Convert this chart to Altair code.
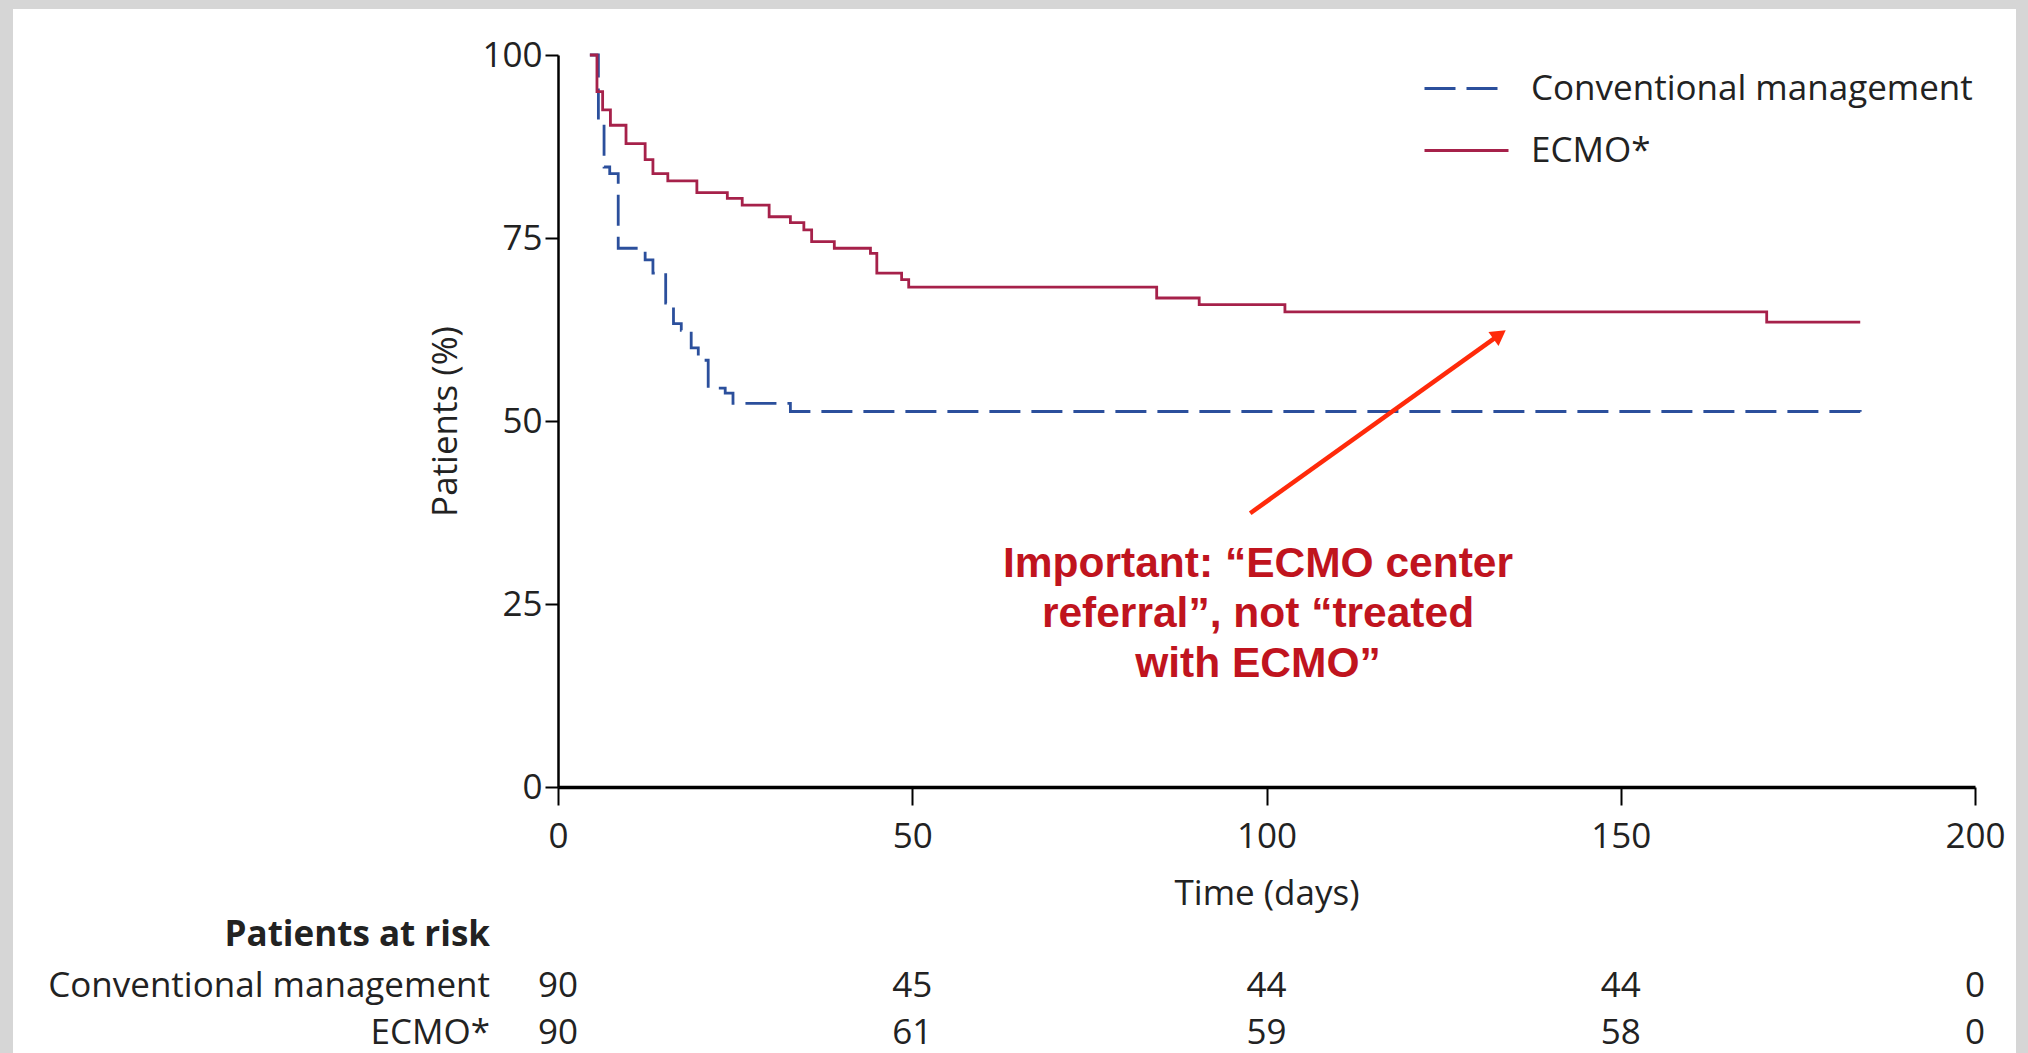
import altair as alt
import pandas as pd

# ---- data ----
groups = ["Conventional management", "ECMO*"]
line_colors = ["#2b4f9c", "#a6214a"]

ecmo_days = [4.5, 5.5, 6.3, 7.4, 9.6, 12.3, 13.4, 15.5, 19.6, 23.9, 26.0, 29.8, 32.8,
             34.7, 35.8, 39.0, 44.1, 45.0, 48.5, 49.5, 84.5, 90.5, 102.6, 170.6, 183.8]
ecmo_surv = [100, 95.0, 92.5, 90.4, 87.9, 85.7, 83.8, 82.8, 81.2, 80.4, 79.5, 77.9, 77.1,
             76.1, 74.5, 73.6, 72.9, 70.2, 69.3, 68.3, 66.8, 65.9, 64.9, 63.5, 63.5]

conv_days = [4.5, 5.7, 6.5, 7.3, 8.5, 12.3, 13.4, 15.2, 16.3, 17.4, 18.8, 19.8, 21.2,
             23.6, 24.7, 32.8, 183.8]
conv_surv = [100, 91.1, 84.7, 83.8, 73.6, 72.0, 70.2, 66.1, 63.3, 62.4, 60.0, 58.3, 54.5,
             53.8, 52.4, 51.3, 50.1]

risk_days = [0, 50, 100, 150, 200]
risk_conv = [90, 45, 44, 44, 0]
risk_ecmo = [90, 61, 59, 58, 0]

x_ticks = [0, 50, 100, 150, 200]
y_ticks = [0, 25, 50, 75, 100]

annotation_lines = ["Important: \u201cECMO center", "referral\u201d, not \u201ctreated", "with ECMO\u201d"]
annotation_x = [98.8]
annotation_y = [30.5]

arrow_x = [97.7, 132.9]
arrow_y = [37.4, 61.8]
arrow_head_x = [132.9]
arrow_head_y = [61.8]

# ---- tables ----
km = pd.concat([
    pd.DataFrame({"day": conv_days, "surv": conv_surv, "group": groups[0]}),
    pd.DataFrame({"day": ecmo_days, "surv": ecmo_surv, "group": groups[1]}),
])
conv_risk_df = pd.DataFrame({"day": risk_days, "n": risk_conv})
ecmo_risk_df = pd.DataFrame({"day": risk_days, "n": risk_ecmo})
ann_df = pd.DataFrame({"day": annotation_x, "surv": annotation_y, "t": ["\n".join(annotation_lines)]})
arrow_df = pd.DataFrame({"day": arrow_x, "surv": arrow_y})
head_df = pd.DataFrame({"day": arrow_head_x, "surv": arrow_head_y})

FONT = "Open Sans"
TXT = "#222222"
FS = 35

x_scale = alt.Scale(domain=[0, 200], nice=False, zero=False)
y_scale = alt.Scale(domain=[0, 100], nice=False)

x_axis = alt.Axis(values=x_ticks, grid=False, domainColor="black", domainWidth=3.3,
                  tickColor="black", tickWidth=2, tickSize=18, labelFontSize=FS,
                  labelFont=FONT, labelColor=TXT, labelPadding=14, titleFontSize=FS,
                  titleFont=FONT, titleColor=TXT, titleFontWeight="normal",
                  titlePadding=22, format="d", zindex=1, labelFlush=False,
                  labelOverlap=False)
y_axis = alt.Axis(values=y_ticks, grid=False, domainColor="black", domainWidth=2.5,
                  tickColor="black", tickWidth=2, tickSize=13, labelFontSize=FS,
                  labelFont=FONT, labelColor=TXT, labelPadding=3, titleFontSize=FS,
                  titleFont=FONT, titleColor=TXT, titleFontWeight="normal",
                  titlePadding=18, format="d", zindex=1, labelFlush=False,
                  labelOverlap=False)

X = alt.X("day:Q", scale=x_scale, title="Time (days)", axis=x_axis)
Y = alt.Y("surv:Q", scale=y_scale, title="Patients (%)", axis=y_axis)

frame = alt.Chart(alt.Data(values=[{"a": 1}])).mark_rect(color="white").encode(
    x=alt.value(-545), x2=alt.value(1458), y=alt.value(-46), y2=alt.value(1010)
)

legend = alt.Legend(
    title=None, orient="none", legendX=865, legendY=-10, symbolType="stroke",
    symbolSize=7056, symbolStrokeWidth=3, labelFontSize=FS, labelFont=FONT,
    labelColor=TXT, labelOffset=21, labelLimit=800, rowPadding=-26, padding=0,
)

lines = alt.Chart(km).mark_line(interpolate="step-after", strokeWidth=2.8).encode(
    x=X, y=Y,
    color=alt.Color("group:N", scale=alt.Scale(domain=groups, range=line_colors), legend=legend),
    strokeDash=alt.StrokeDash("group:N", scale=alt.Scale(domain=groups, range=[[31, 11], [1, 0]]),
                              legend=legend),
)

conv_risk = alt.Chart(conv_risk_df).mark_text(font=FONT, fontSize=FS, color=TXT, baseline="middle").encode(
    x=X, y=alt.value(931), text="n:Q")
ecmo_risk = alt.Chart(ecmo_risk_df).mark_text(font=FONT, fontSize=FS, color=TXT, baseline="middle").encode(
    x=X, y=alt.value(978), text="n:Q")

def row_label(txt, y, bold=False):
    return alt.Chart(alt.Data(values=[{"t": txt}])).mark_text(
        font=FONT, fontSize=FS, color=TXT, align="right", baseline="middle",
        fontWeight="bold" if bold else "normal",
    ).encode(x=alt.value(-68), y=alt.value(y), text="t:N")

hdr = row_label("Patients at risk", 880, bold=True)
lab1 = row_label(groups[0], 931)
lab2 = row_label(groups[1], 978)

ann = alt.Chart(ann_df).mark_text(
    font="Liberation Sans", fontSize=42.5, fontWeight="bold", color="#c0141e",
    align="center", baseline="middle", lineBreak="\n", lineHeight=50,
).encode(x=X, y=Y, text="t:N")

arrow = alt.Chart(arrow_df).mark_line(color="#ff2a0a", strokeWidth=4.5).encode(x=X, y=Y)
head = alt.Chart(head_df).mark_point(shape="triangle-up", filled=True, color="#ff2a0a",
                                     size=300, angle=54.5, opacity=1).encode(x=X, y=Y)

chart = alt.layer(frame, lines, arrow, head, ann, conv_risk, ecmo_risk, hdr, lab1, lab2).properties(
    width=1417, height=732,
    padding={"left": 558, "top": 55, "right": 53, "bottom": 266},
    autosize=alt.AutoSizeParams(type="none"),
    background="#d6d6d6",
).configure_view(stroke=None)

chart.save("out.html", embed_options={"renderer": "svg", "actions": False})
